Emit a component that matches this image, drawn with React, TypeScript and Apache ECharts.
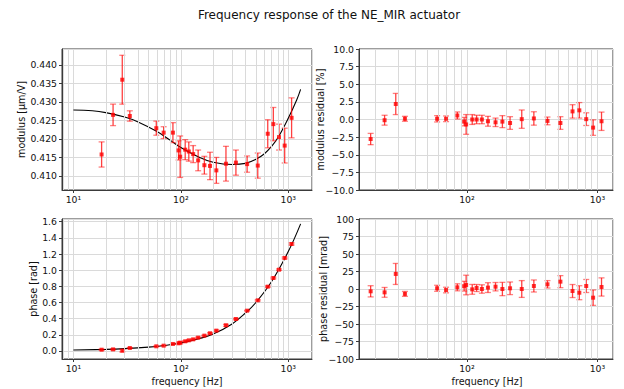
import React, { useEffect, useRef } from "react";
import * as echarts from "echarts";

// ---------- data ----------
const freq = [18.3, 23.4, 28.5, 33.5, 59.1, 69.2, 84.4, 95.2, 98.6, 109.8, 118.6, 130.2, 144.9, 165.6, 186.9, 214, 263, 325.6, 414, 520, 644, 726, 820, 926, 1074];

const modulus = [0.4158, 0.4265, 0.436, 0.4262, 0.4229, 0.4217, 0.4217, 0.4169, 0.4152, 0.4171, 0.4166, 0.4159, 0.4142, 0.4129, 0.4127, 0.4115, 0.4133, 0.4136, 0.4132, 0.4128, 0.4214, 0.424, 0.4205, 0.4182, 0.4257];
const modulusErr = [0.0034, 0.0029, 0.0066, 0.0014, 0.0019, 0.0016, 0.0027, 0.0026, 0.0056, 0.0027, 0.0026, 0.0023, 0.0028, 0.0024, 0.0037, 0.0035, 0.0047, 0.0034, 0.0022, 0.0034, 0.0038, 0.0045, 0.0035, 0.0047, 0.0054];

const modulusFitFreq = [10, 15, 20, 30, 40, 60, 80, 100, 150, 200, 300, 400, 500, 600, 700, 800, 1000, 1200, 1303];
const modulusFit = [0.4278, 0.4276, 0.4271, 0.4259, 0.4246, 0.422, 0.4196, 0.4177, 0.415, 0.4137, 0.4131, 0.4134, 0.4145, 0.416, 0.418, 0.4203, 0.4256, 0.4306, 0.4334];

const modResidual = [-2.77, -0.1, 2.2, 0.1, 0.1, 0.1, 0.57, -0.3, -0.7, 0.0, 0.0, 0.0, -0.25, -0.4, -0.3, -0.5, 0.05, 0.15, -0.2, -0.5, 1.15, 1.3, 0.05, -1.15, -0.25];
const modResidualErr = [0.8, 0.7, 1.5, 0.35, 0.45, 0.4, 0.5, 0.6, 1.4, 0.7, 0.6, 0.6, 0.7, 0.6, 0.85, 0.9, 1.3, 0.95, 0.55, 0.9, 0.95, 1.1, 0.9, 1.1, 1.3];

const phase = [0.016, 0.02, 0.004, 0.037, 0.058, 0.066, 0.087, 0.095, 0.103, 0.12, 0.132, 0.144, 0.165, 0.19, 0.219, 0.252, 0.318, 0.396, 0.499, 0.627, 0.796, 0.903, 1.006, 1.151, 1.324];
const phaseErr = [0.008, 0.007, 0.015, 0.0035, 0.0043, 0.004, 0.005, 0.007, 0.014, 0.007, 0.005, 0.006, 0.007, 0.006, 0.0095, 0.009, 0.012, 0.0086, 0.0053, 0.0086, 0.0093, 0.01, 0.0093, 0.011, 0.013];

const phaseFitFreq = [10, 20, 30, 50, 70, 100, 150, 200, 300, 400, 500, 700, 1000, 1303];
const phaseFit = [0.012, 0.02, 0.029, 0.048, 0.068, 0.099, 0.155, 0.21, 0.335, 0.47, 0.6, 0.86, 1.23, 1.573];

const phaseResidual = [-3.3, -4.8, 21.5, -7, 1, -1.5, 2.4, 4, 5.7, -0.5, 1.4, 0, 2, 3.3, 0, 1, 0, 4.3, 6.7, 10.5, -2.9, -5.3, 4.3, -12.4, 2.9];
const phaseResidualErr = [8, 7, 15, 3.5, 4.3, 4, 5, 7, 14, 7, 5, 6, 7, 6, 9.5, 9, 12, 8.6, 5.3, 8.6, 9.3, 10, 9.3, 11, 13];

const minorLeft = [8, 9, 20, 30, 40, 50, 60, 70, 80, 90, 200, 300, 400, 500, 600, 700, 800, 900];
const minorRight = [20, 30, 40, 50, 60, 70, 80, 90, 200, 300, 400, 500, 600, 700, 800, 900];

const titleText = "Frequency response of the NE_MIR actuator";
const yNames = ["modulus [μm/V]", "modulus residual [%]", "phase [rad]", "phase residual [mrad]"];
const xName = "frequency [Hz]";

// ---------- helpers ----------
const FONT = "DejaVu Sans";
const GRID_COLOR = "#dadada";
const AXIS_COLOR = "#3a3a3a";
const TEXT_COLOR = "#111";
const TICK_FS = 9.3;
const NAME_FS = 9.6;
const SUP = ["⁰", "¹", "²", "³", "⁴"];

const logLabel = (v: number) => {
  const l = Math.log10(v);
  const e = Math.round(l);
  if (Math.abs(l - e) > 1e-6) return "";
  return "10" + SUP[e];
};
const minus = (s: string) => s.replace("-", "\u2212");

const xAxisCfg = (gi: number, min: number, max: number) => ({
  type: "log",
  logBase: 10,
  gridIndex: gi,
  min,
  max,
  axisLine: { show: true, onZero: false, lineStyle: { color: AXIS_COLOR, width: 1 } },
  axisTick: { show: true, inside: false, length: 3, lineStyle: { color: AXIS_COLOR, width: 1 } },
  axisLabel: {
    fontSize: TICK_FS,
    color: TEXT_COLOR,
    margin: 5,
    fontFamily: FONT,
    showMinLabel: false,
    showMaxLabel: false,
    formatter: (v: number) => logLabel(v),
  },
  splitLine: { show: true, lineStyle: { color: GRID_COLOR, width: 1 } },
});

const yAxisCfg = (gi: number, min: number, max: number, step: number, fmt: (v: number) => string, hideEnds: boolean) => ({
  type: "value",
  gridIndex: gi,
  min,
  max,
  minInterval: step,
  maxInterval: step,
  splitNumber: Math.round((max - min) / step),
  axisLine: { show: true, onZero: false, lineStyle: { color: AXIS_COLOR, width: 1 } },
  axisTick: { show: true, inside: false, length: 3, lineStyle: { color: AXIS_COLOR, width: 1 } },
  axisLabel: {
    fontSize: TICK_FS,
    color: TEXT_COLOR,
    margin: 5,
    fontFamily: FONT,
    showMinLabel: !hideEnds,
    showMaxLabel: !hideEnds,
    formatter: fmt,
  },
  splitLine: { show: true, lineStyle: { color: GRID_COLOR, width: 1 } },
});

const gridLinesSeries = (idx: number, minors: number[]) => ({
  type: "line",
  xAxisIndex: idx,
  yAxisIndex: idx,
  data: [],
  z: 1,
  silent: true,
  markLine: {
    silent: true,
    symbol: "none",
    animation: false,
    label: { show: false },
    lineStyle: { color: GRID_COLOR, width: 1, type: "solid" },
    data: minors.map((v) => ({ xAxis: v })),
  },
});

const errorSeries = (idx: number, vals: number[], errs: number[]) => ({
  type: "custom",
  xAxisIndex: idx,
  yAxisIndex: idx,
  z: 4,
  silent: true,
  data: freq.map((f, i) => [f, vals[i] - errs[i], vals[i] + errs[i]]),
  encode: { x: 0, y: [1, 2] },
  renderItem: (_p: any, api: any) => {
    const x = api.value(0);
    const lo = api.coord([x, api.value(1)]);
    const hi = api.coord([x, api.value(2)]);
    const w = 3;
    const barStyle = { stroke: "rgba(255,0,0,0.75)", lineWidth: 1.3 };
    const capStyle = { stroke: "rgba(255,0,0,0.5)", lineWidth: 1.3 };
    return {
      type: "group",
      children: [
        { type: "line", shape: { x1: lo[0], y1: lo[1], x2: hi[0], y2: hi[1] }, style: barStyle },
        { type: "line", shape: { x1: lo[0] - w, y1: lo[1], x2: lo[0] + w, y2: lo[1] }, style: capStyle },
        { type: "line", shape: { x1: hi[0] - w, y1: hi[1], x2: hi[0] + w, y2: hi[1] }, style: capStyle },
      ],
    };
  },
});

const pointSeries = (idx: number, vals: number[]) => ({
  type: "scatter",
  xAxisIndex: idx,
  yAxisIndex: idx,
  z: 5,
  symbol: "rect",
  symbolSize: 4,
  itemStyle: { color: "#ff0000" },
  data: freq.map((f, i) => [f, vals[i]]),
});

const fitSeries = (idx: number, xs: number[], ys: number[]) => ({
  type: "line",
  xAxisIndex: idx,
  yAxisIndex: idx,
  z: 3,
  smooth: 0.4,
  showSymbol: false,
  symbol: "none",
  lineStyle: { color: "#000", width: 1.1 },
  data: xs.map((x, i) => [x, ys[i]]),
});

const textEl = (text: string, x: number, y: number, size: number, rot: number) => ({
  type: "text",
  x,
  y,
  rotation: rot,
  style: { text, textAlign: "center", textVerticalAlign: "middle", fontSize: size, fontFamily: FONT, fill: TEXT_COLOR },
});

export default function App() {
  const ref = useRef<HTMLDivElement>(null);
  useEffect(() => {
    if (!ref.current) return;
    const chart = echarts.init(ref.current, undefined, { renderer: "svg" });
    const gridBase = { show: true, borderColor: AXIS_COLOR, borderWidth: 1, backgroundColor: "transparent", containLabel: false };
    const option: any = {
      animation: false,
      backgroundColor: "#fff",
      grid: [
        { ...gridBase, left: 62, top: 49, width: 250, height: 141 },
        { ...gridBase, left: 359, top: 49, width: 254, height: 141 },
        { ...gridBase, left: 62, top: 219, width: 250, height: 140 },
        { ...gridBase, left: 359, top: 219, width: 254, height: 140 },
      ],
      xAxis: [
        xAxisCfg(0, 7.83, 1663),
        xAxisCfg(1, 14.9, 1315),
        xAxisCfg(2, 7.83, 1663),
        xAxisCfg(3, 14.9, 1315),
      ],
      yAxis: [
        yAxisCfg(0, 0.4062, 0.4443, 0.005, (v) => v.toFixed(3), true),
        yAxisCfg(1, -10, 10, 2.5, (v) => minus(v.toFixed(1)), false),
        yAxisCfg(2, -0.099, 1.633, 0.2, (v) => v.toFixed(1), true),
        yAxisCfg(3, -100, 100, 25, (v) => minus(String(Math.round(v))), false),
      ],
      graphic: [
        textEl(titleText, 329, 15, 12, 0),
        textEl(yNames[0], 21.5, 119.5, NAME_FS, Math.PI / 2),
        textEl(yNames[1], 320, 119.5, NAME_FS, Math.PI / 2),
        textEl(yNames[2], 33, 289, NAME_FS, Math.PI / 2),
        textEl(yNames[3], 323, 289, NAME_FS, Math.PI / 2),
        textEl(xName, 187, 381, NAME_FS, 0),
        textEl(xName, 487, 381, NAME_FS, 0),
      ],
      series: [
        gridLinesSeries(0, minorLeft),
        gridLinesSeries(1, minorRight),
        gridLinesSeries(2, minorLeft),
        gridLinesSeries(3, minorRight),
        fitSeries(0, modulusFitFreq, modulusFit),
        fitSeries(2, phaseFitFreq, phaseFit),
        errorSeries(0, modulus, modulusErr),
        errorSeries(1, modResidual, modResidualErr),
        errorSeries(2, phase, phaseErr),
        errorSeries(3, phaseResidual, phaseResidualErr),
        pointSeries(0, modulus),
        pointSeries(1, modResidual),
        pointSeries(2, phase),
        pointSeries(3, phaseResidual),
      ],
    };
    chart.setOption(option);
    return () => chart.dispose();
  }, []);
  return (
    <div
      ref={ref}
      style={{ position: "fixed", left: 0, top: 0, width: 624, height: 389, background: "#fff" }}
    />
  );
}
